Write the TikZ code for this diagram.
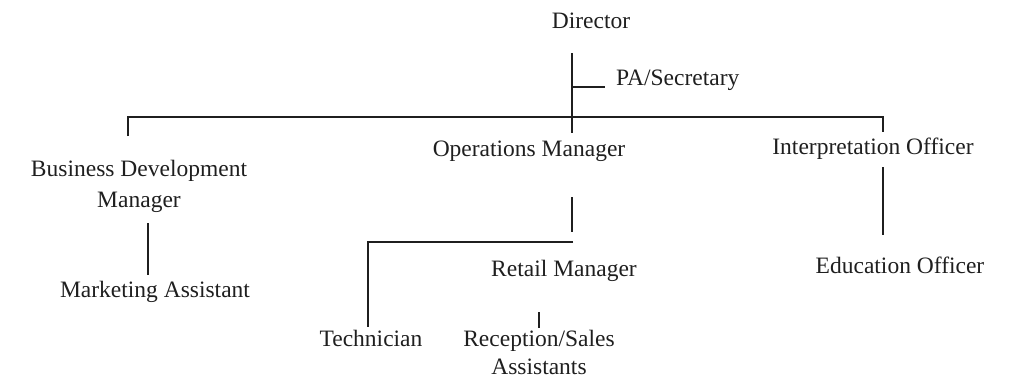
\documentclass[tikz,border=0pt]{standalone}
\usepackage{fontspec}
\setmainfont{Liberation Serif}
\begin{document}
\begin{tikzpicture}[x=1pt,y=-1pt,
  conn/.style={line width=1.6pt, color=black!88},
  lbl/.style={inner sep=0pt, anchor=base, align=center, text=black!88, font=\fontsize{23.5}{31}\selectfont},
  lbltight/.style={lbl, font=\fontsize{23.5}{28}\selectfont}]
\useasboundingbox (0,0) rectangle (1018,380);
% nodes
\node[lbl] (dir) at (591,28) {Director};
\node[lbl, anchor=base west] (pa) at (616,85) {PA/Secretary};
\node[lbl] (bdm) at (139,207) {Business Development\\Manager};
\node[lbl] (mkt) at (155,297) {Marketing Assistant};
\node[lbl] (ops) at (529,156) {Operations Manager};
\node[lbl] (int) at (873,154) {Interpretation Officer};
\node[lbl] (edu) at (900,273) {Education Officer};
\node[lbl] (ret) at (564,276) {Retail Manager};
\node[lbl] (tec) at (371,346) {Technician};
\node[lbltight] (rec) at (539,374) {Reception/Sales\\Assistants};
% coordinates
\coordinate (dtop) at (572,53);
\coordinate (dbot) at (572,133);
\coordinate (pastub) at (572,87);
\coordinate (barL) at (128,117);
\coordinate (barR) at (883,117);
\coordinate (bdmtop) at (128,136);
\coordinate (inttop) at (883,132);
\coordinate (opsA) at (572,197);
\coordinate (opsB) at (572,232);
\coordinate (subR) at (573,242);
\coordinate (subL) at (368,242);
\coordinate (tectop) at (368,327);
\coordinate (mktA) at (148,223);
\coordinate (mktB) at (148,275);
\coordinate (eduA) at (883,167);
\coordinate (eduB) at (883,235);
\coordinate (recA) at (539,312);
\coordinate (recB) at (539,328);
% connectors
\draw[conn] (dtop) -- (dbot);
\draw[conn] (pastub) -- ++(33,0);
\draw[conn] (bdmtop) -- (barL) -- (barR) -- (inttop);
\draw[conn] (mktA) -- (mktB);
\draw[conn] (eduA) -- (eduB);
\draw[conn] (opsA) -- (opsB);
\draw[conn] (subR) -- (subL) -- (tectop);
\draw[conn, line width=1.2pt] (recA) -- (recB);
\end{tikzpicture}
\end{document}
